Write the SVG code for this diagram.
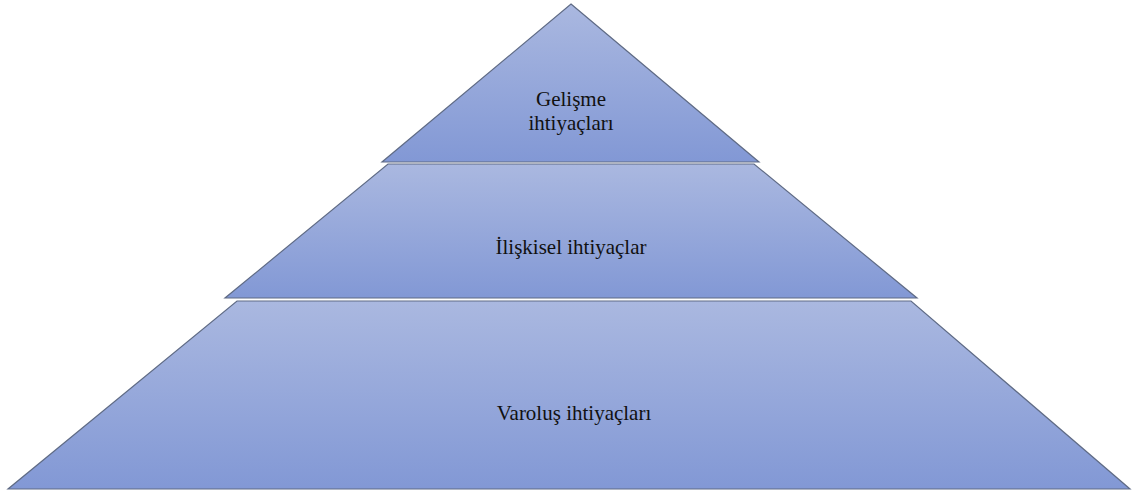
<svg xmlns="http://www.w3.org/2000/svg" width="1132" height="493" viewBox="0 0 1132 493">
<style>
.lvl{fill:url(#g);stroke:#5f6b85;stroke-width:1.2;stroke-linejoin:miter}
.t{font-family:"Liberation Serif",serif;font-size:21px;fill:#111;text-anchor:middle}
</style>
<defs>
<linearGradient id="g" x1="0" y1="0" x2="0" y2="1">
<stop offset="0" stop-color="#aab8e0"/>
<stop offset="1" stop-color="#8298d5"/>
</linearGradient>
</defs>
<g id="connectors"/>
<g id="level-top">
<polygon class="lvl" points="571,4 759,162 382,162"/>
<text class="t" x="571" y="106">Gelişme</text>
<text class="t" x="571" y="130">ihtiyaçları</text>
</g>
<g id="level-middle">
<polygon class="lvl" points="388,164 754,164 917,298 225,298"/>
<text class="t" x="571" y="254">İlişkisel ihtiyaçlar</text>
</g>
<g id="level-bottom">
<polygon class="lvl" points="237,301 911,301 1130,489 8,489"/>
<text class="t" x="574" y="420">Varoluş ihtiyaçları</text>
</g>
</svg>
